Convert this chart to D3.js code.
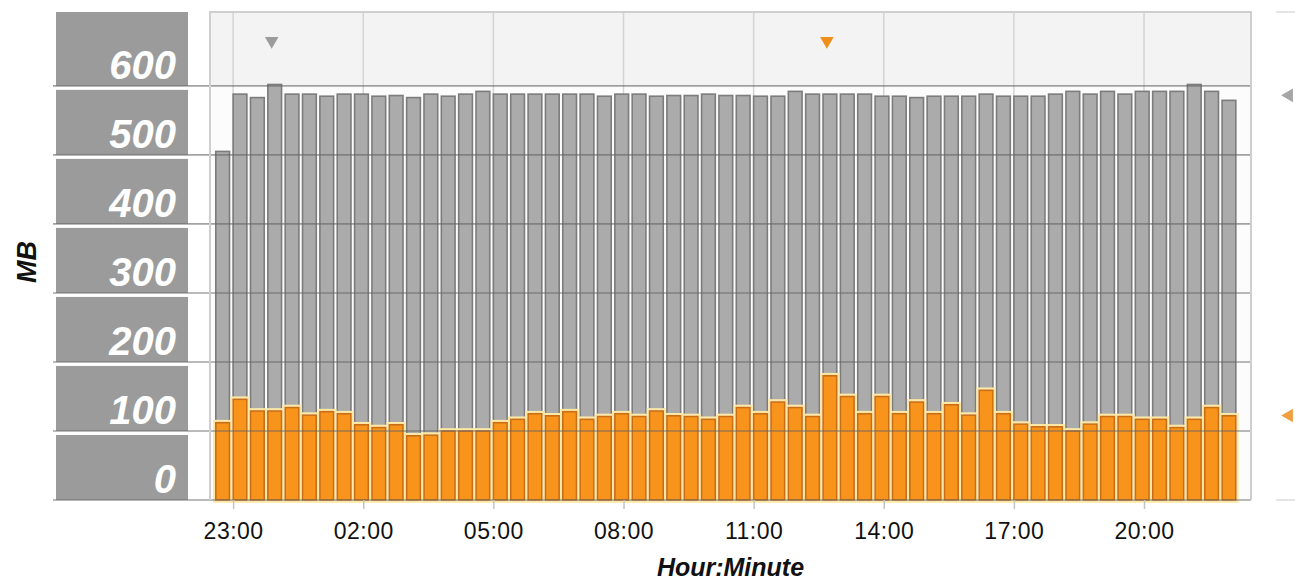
<!DOCTYPE html>
<html>
<head>
<meta charset="utf-8">
<script src="https://cdn.jsdelivr.net/npm/d3@7"></script>
<style>
  body { margin: 0; background: #fff; }
  svg { display: block; }
</style>
</head>
<body>
<div id="chart"></div>
<script>
// bar start times (24 minute buckets)
const times = ["22:36","23:00","23:24","23:48","00:12","00:36","01:00","01:24","01:48","02:12",
               "02:36","03:00","03:24","03:48","04:12","04:36","05:00","05:24","05:48","06:12",
               "06:36","07:00","07:24","07:48","08:12","08:36","09:00","09:24","09:48","10:12",
               "10:36","11:00","11:24","11:48","12:12","12:36","13:00","13:24","13:48","14:12",
               "14:36","15:00","15:24","15:48","16:12","16:36","17:00","17:24","17:48","18:12",
               "18:36","19:00","19:24","19:48","20:12","20:36","21:00","21:24","21:48"];

// grey bars
const totalMB = [505,588,583,602,588,588,585,588,588,585,586,583,588,585,588,592,588,588,588,588,
                 588,588,585,588,588,585,586,586,588,586,586,585,585,592,588,588,588,588,585,585,
                 583,585,585,585,588,585,585,585,588,592,588,592,588,592,592,592,602,592,579];

// orange bars
const usedMB = [112,146,129,129,134,123,128,125,109,105,109,93,94,100,100,100,112,117,125,122,
                128,117,121,125,121,129,122,121,117,121,134,125,142,134,121,180,150,125,150,125,
                142,125,138,123,159,125,110,106,106,100,110,121,121,117,117,105,117,134,122];

const yTicks = [0, 100, 200, 300, 400, 500, 600];
const xTickLabels = ["23:00","02:00","05:00","08:00","11:00","14:00","17:00","20:00"];

const width = 1295, height = 584;
const pLeft = 210, pRight = 1251, pTop = 12, pBottom = 500;

const svg = d3.select("#chart")
    .append("svg")
    .attr("width", width)
    .attr("height", height);

// times before 22:28 belong to the next day
const start = new Date(2020, 0, 1, 22, 28);
function toDate(s) {
    const [h, m] = s.split(":").map(Number);
    const day = h * 60 + m >= 22 * 60 + 28 ? 1 : 2;
    return new Date(2020, 0, day, h, m);
}

const x = d3.scaleTime()
    .domain([start, d3.timeDay.offset(start, 1)])
    .range([pLeft, pRight]);
const y = d3.scaleLinear()
    .domain([0, 707])
    .range([pBottom, pTop]);
const barW = x(d3.timeMinute.offset(start, 19)) - x(start);

const bars = times.map((t, i) => ({ t: toDate(t), total: totalMB[i], used: usedMB[i] }));
const tickDates = xTickLabels.map(toDate);

// pale glow behind orange bars
const defs = svg.append("defs");
const glow = defs.append("filter").attr("id", "glow")
    .attr("x", "-20%").attr("y", "-5%").attr("width", "140%").attr("height", "110%");
glow.append("feMorphology").attr("in", "SourceAlpha").attr("operator", "dilate")
    .attr("radius", 2).attr("result", "d");
glow.append("feFlood").attr("flood-color", "#ffe9a6");
glow.append("feComposite").attr("in2", "d").attr("operator", "in").attr("result", "g");
glow.append("feGaussianBlur").attr("in", "g").attr("stdDeviation", 0.7).attr("result", "gb");
const merge = glow.append("feMerge");
merge.append("feMergeNode").attr("in", "gb");
merge.append("feMergeNode").attr("in", "SourceGraphic");

// plot background and header band
svg.append("rect")
    .attr("x", pLeft).attr("y", pTop)
    .attr("width", pRight - pLeft).attr("height", pBottom - pTop)
    .attr("fill", "#fcfcfc");
svg.append("rect")
    .attr("x", pLeft).attr("y", pTop)
    .attr("width", pRight - pLeft).attr("height", y(600) - pTop)
    .attr("fill", "#f3f3f3");

// vertical grid
svg.append("g")
    .selectAll("line")
    .data(tickDates)
    .join("line")
    .attr("x1", d => x(d)).attr("x2", d => x(d))
    .attr("y1", pTop).attr("y2", pBottom)
    .attr("stroke", "#d4d4d4")
    .attr("stroke-width", 1.5);

// y label boxes
svg.append("g")
    .selectAll("rect")
    .data(yTicks)
    .join("rect")
    .attr("x", 56)
    .attr("y", d => d === 600 ? pTop : y(d + 100) + 4)
    .attr("width", 132)
    .attr("height", d => y(d) - (d === 600 ? pTop : y(d + 100) + 4))
    .attr("fill", "#9b9b9b");

svg.append("g")
    .selectAll("text")
    .data(yTicks)
    .join("text")
    .attr("x", 176)
    .attr("y", d => y(d) - 7)
    .attr("text-anchor", "end")
    .attr("font-family", "Liberation Sans, Arial, sans-serif")
    .attr("font-weight", "bold")
    .attr("font-style", "italic")
    .attr("font-size", 40)
    .attr("fill", "#fff")
    .text(d => d);

// grey bars
svg.append("g")
    .selectAll("rect")
    .data(bars)
    .join("rect")
    .attr("x", d => x(d.t))
    .attr("y", d => y(d.total))
    .attr("width", barW)
    .attr("height", d => y(0) - y(d.total))
    .attr("fill", "#ababab")
    .attr("stroke", "#7c7c7c")
    .attr("stroke-width", 1.6);

// orange bars
svg.append("g")
    .attr("filter", "url(#glow)")
    .selectAll("rect")
    .data(bars)
    .join("rect")
    .attr("x", d => x(d.t))
    .attr("y", d => y(d.used))
    .attr("width", barW)
    .attr("height", d => y(0) - y(d.used))
    .attr("fill", "#f8931a")
    .attr("stroke", "#c96d14")
    .attr("stroke-width", 1.6);

// horizontal grid on top
svg.append("g")
    .selectAll("line")
    .data(yTicks)
    .join("line")
    .attr("x1", 53).attr("x2", pRight)
    .attr("y1", d => y(d)).attr("y2", d => y(d))
    .attr("stroke", "#666")
    .attr("stroke-opacity", 0.6)
    .attr("stroke-width", 1.6);

// plot frame
svg.append("path")
    .attr("d", `M${pLeft},${pBottom}V${pTop}H${pRight}V${pBottom}`)
    .attr("fill", "none")
    .attr("stroke", "#cfcfcf")
    .attr("stroke-width", 2);

// x axis
const xAxis = svg.append("g")
    .attr("transform", `translate(0,${pBottom})`)
    .call(d3.axisBottom(x)
        .tickValues(tickDates)
        .tickFormat(d3.timeFormat("%H:%M"))
        .tickSize(9)
        .tickPadding(14));
xAxis.select(".domain").remove();
xAxis.selectAll("line").attr("stroke", "#c4c4c4").attr("stroke-width", 1.5);
xAxis.selectAll("text")
    .attr("font-family", "Liberation Sans, Arial, sans-serif")
    .attr("font-size", 23)
    .attr("letter-spacing", 0.5)
    .attr("fill", "#111");

// max markers on top
const tri = d3.symbol(d3.symbolTriangle, 80);
const iTot = d3.maxIndex(bars, d => d.total);
const iUsed = d3.maxIndex(bars, d => d.used);
svg.append("path")
    .attr("d", tri())
    .attr("transform", `translate(${x(bars[iTot].t) + barW / 2 - 3},41) rotate(180)`)
    .attr("fill", "#9c9c9c");
svg.append("path")
    .attr("d", tri())
    .attr("transform", `translate(${x(bars[iUsed].t) + barW / 2 - 3},41) rotate(180)`)
    .attr("fill", "#ee8f1c");

// right side panel with average markers
const side = svg.append("g");
side.selectAll("line")
    .data([pTop, pBottom])
    .join("line")
    .attr("x1", 1276).attr("x2", width)
    .attr("y1", d => d).attr("y2", d => d)
    .attr("stroke", "#dcdcdc")
    .attr("stroke-width", 1.5);
side.append("path")
    .attr("d", tri())
    .attr("transform", `translate(1289,${y(d3.mean(totalMB))}) rotate(-90)`)
    .attr("fill", "#a6a6a6");
side.append("path")
    .attr("d", tri())
    .attr("transform", `translate(1289,${y(d3.mean(usedMB))}) rotate(-90)`)
    .attr("fill", "#f0a040");

// axis titles
svg.append("text")
    .attr("transform", "translate(36,262) rotate(-90)")
    .attr("text-anchor", "middle")
    .attr("font-family", "Liberation Sans, Arial, sans-serif")
    .attr("font-weight", "bold")
    .attr("font-style", "italic")
    .attr("font-size", 27)
    .attr("fill", "#111")
    .text("MB");

svg.append("text")
    .attr("x", (pLeft + pRight) / 2)
    .attr("y", 576)
    .attr("text-anchor", "middle")
    .attr("font-family", "Liberation Sans, Arial, sans-serif")
    .attr("font-weight", "bold")
    .attr("font-style", "italic")
    .attr("font-size", 25)
    .attr("fill", "#111")
    .text("Hour:Minute");
</script>
</body>
</html>
